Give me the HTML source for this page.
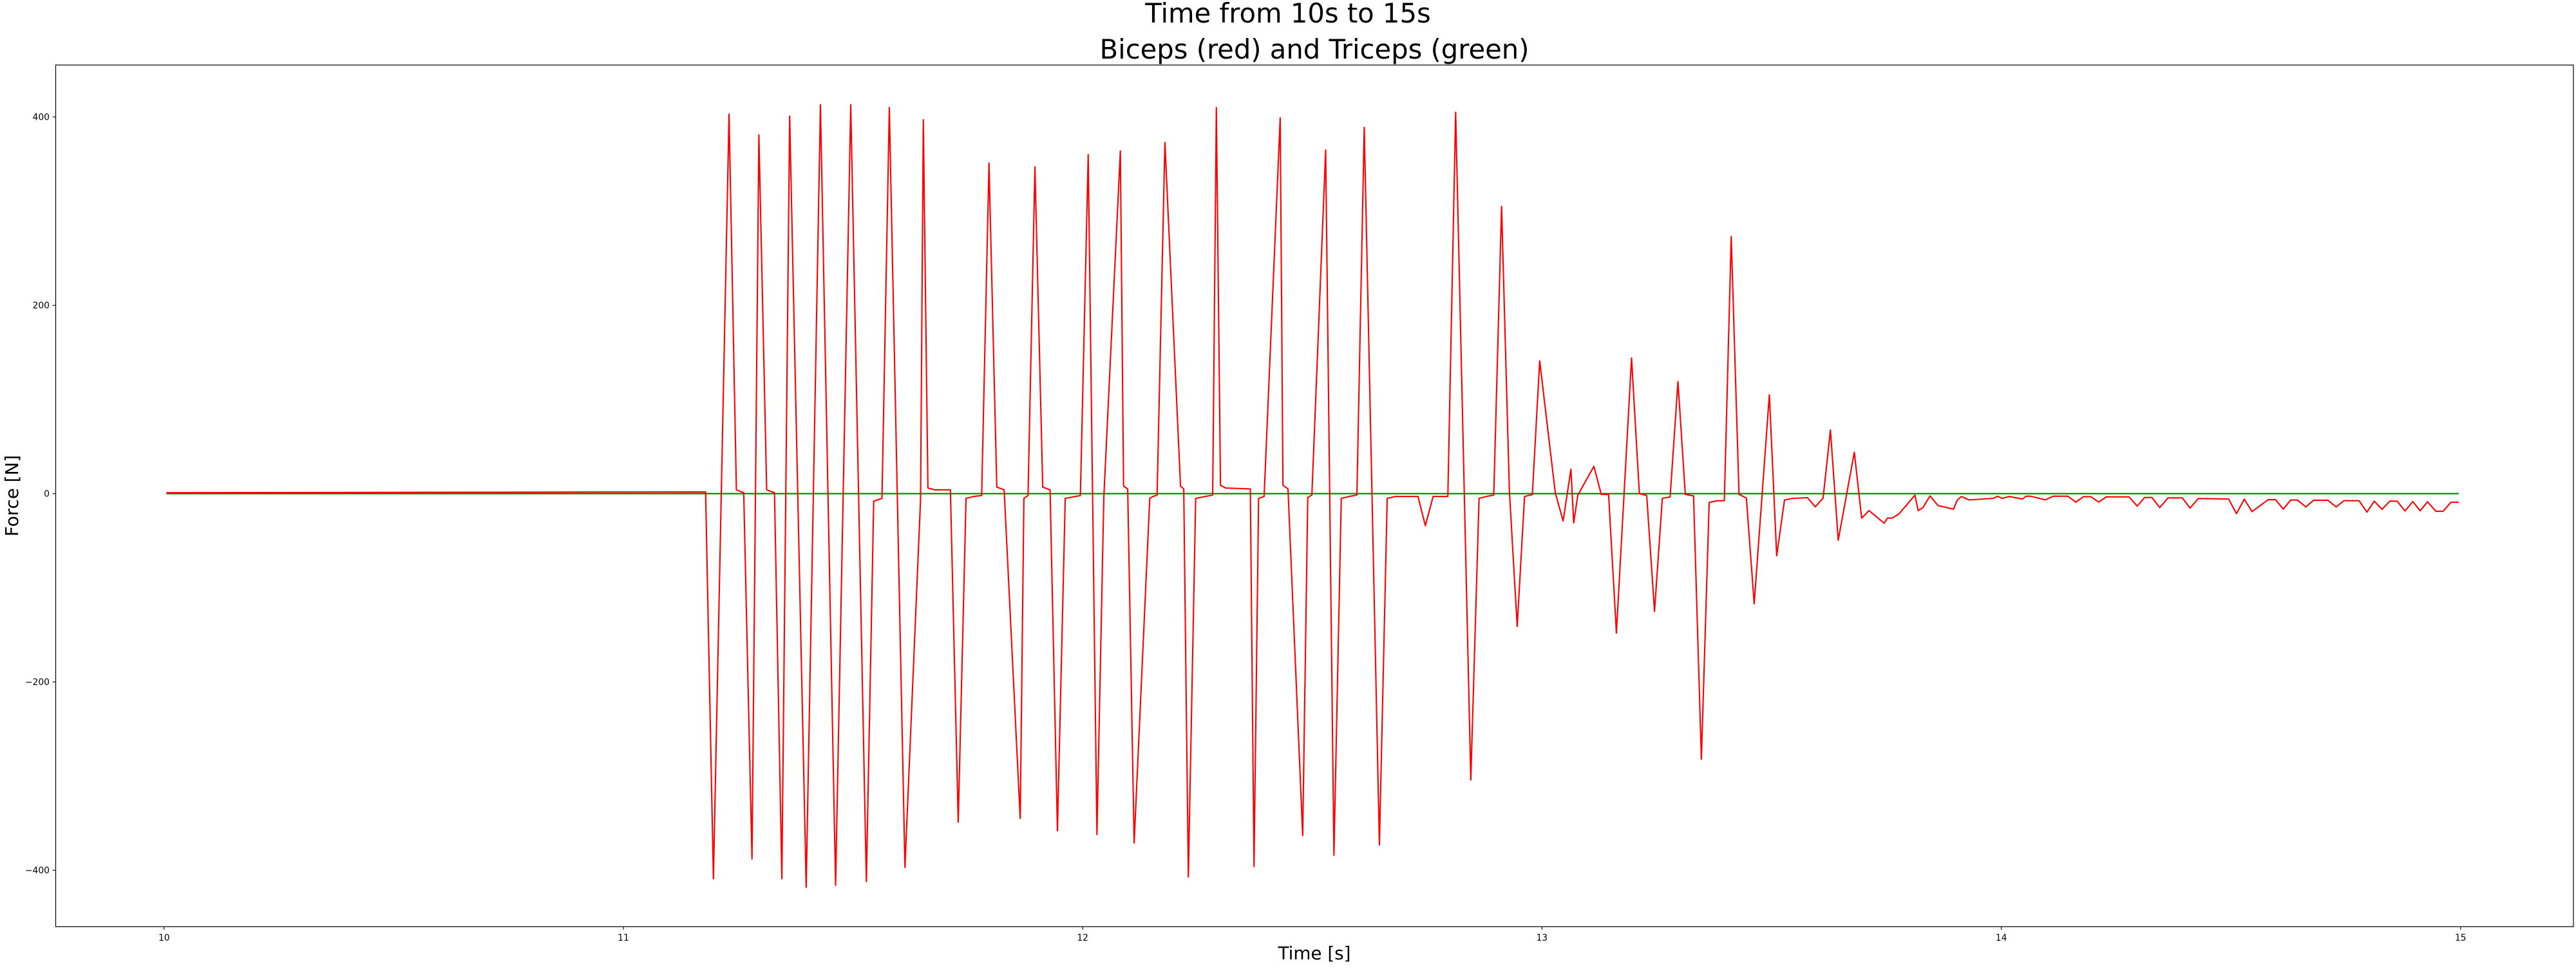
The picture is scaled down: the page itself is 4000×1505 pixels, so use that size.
<!DOCTYPE html>
<html>
<head>
<meta charset="utf-8">
<style>
  html, body { margin: 0; padding: 0; background: #ffffff; }
  body { width: 4000px; height: 1500px; overflow: hidden; }
  svg text { font-family: "DejaVu Sans", "Liberation Sans", sans-serif; fill: #000; }
</style>
</head>
<body>
<svg id="chart" width="4000" height="1500" viewBox="0 0 4000 1500" xmlns="http://www.w3.org/2000/svg">
  <rect x="0" y="0" width="4000" height="1500" fill="#ffffff"/>
  <text x="2000" y="35" font-size="41.7" text-anchor="middle">Time from 10s to 15s</text>
  <text x="2041" y="91" font-size="41.7" text-anchor="middle">Biceps (red) and Triceps (green)</text>
  <text x="2041" y="1490" font-size="27.8" text-anchor="middle">Time [s]</text>
  <text transform="translate(28,770) rotate(-90)" font-size="27.8" text-anchor="middle">Force [N]</text>
  <g id="plot"></g>
  <g id="xticks"></g>
  <g id="yticks"></g>
  <rect x="86.5" y="101" width="3909.5" height="1338.3" fill="none" stroke="#000" stroke-width="1.2"/>
</svg>
<script>
const xTicks = [10, 11, 12, 13, 14, 15];
const xTickLabels = ["10", "11", "12", "13", "14", "15"];
const yTicks = [-400, -200, 0, 200, 400];
const yTickLabels = ["\u2212400", "\u2212200", "0", "200", "400"];

const tricepsTime = [10.005, 14.996];
const tricepsForce = [0, 0];

const bicepsTime = [10.005, 11.179, 11.196, 11.230, 11.246, 11.262, 11.280, 11.295, 11.312, 11.329, 11.345, 11.362, 11.398, 11.429, 11.462, 11.495, 11.529, 11.545, 11.563, 11.579, 11.613, 11.647, 11.653, 11.663, 11.679, 11.712, 11.729, 11.746, 11.763, 11.780, 11.796, 11.813, 11.829, 11.864, 11.872, 11.881, 11.896, 11.913, 11.929, 11.945, 11.962, 11.995, 12.012, 12.031, 12.046, 12.082, 12.089, 12.098, 12.112,
 12.146, 12.153, 12.162, 12.179, 12.213, 12.220, 12.230, 12.246, 12.283, 12.291, 12.300, 12.311, 12.365, 12.373, 12.383, 12.395, 12.430, 12.436, 12.447, 12.479, 12.490, 12.499, 12.529, 12.547, 12.563, 12.580, 12.597, 12.613, 12.646, 12.663, 12.681, 12.730, 12.746, 12.763, 12.795, 12.812, 12.845, 12.863, 12.879, 12.895, 12.912, 12.929, 12.946, 12.962, 12.979, 12.995, 13.029, 13.046, 13.063, 13.069, 13.078,
 13.113, 13.129, 13.145, 13.162, 13.195, 13.212, 13.228, 13.245, 13.262, 13.279, 13.296, 13.312, 13.330, 13.347, 13.364, 13.381, 13.397, 13.412, 13.429, 13.445, 13.462, 13.495, 13.511, 13.528, 13.546, 13.578, 13.595, 13.612, 13.628, 13.645, 13.680, 13.696, 13.712, 13.745, 13.752, 13.762, 13.777, 13.812, 13.819, 13.829, 13.845, 13.862, 13.896, 13.904, 13.913, 13.930, 13.982, 13.992, 14.002, 14.017,
 14.046, 14.054, 14.064, 14.096, 14.113, 14.145, 14.162, 14.179, 14.195, 14.212, 14.229, 14.278, 14.296, 14.312, 14.328, 14.345, 14.363, 14.394, 14.411, 14.429, 14.495, 14.512, 14.529, 14.546, 14.581, 14.597, 14.614, 14.630, 14.645, 14.663, 14.680, 14.711, 14.729, 14.746, 14.779, 14.796, 14.812, 14.829, 14.846, 14.862, 14.879, 14.896, 14.912, 14.928, 14.946, 14.962, 14.979, 14.996];

const bicepsForce = [1.0, 1.8, -409, 403, 4, 1, -388, 381, 4, 1, -409, 401, -418, 413, -416, 413, -412, -8, -5, 410, -397, -6, 397, 6, 4, 4, -349, -5, -3, -2, 351, 7, 4, -345, -5, -2, 347, 7, 4, -358, -5, -2, 360, -362, -4, 364, 8, 5, -371,
 -5, -3, -1.5, 373, 8, 5, -407, -5, -1.5, 410, 9, 6, 5, -396, -5, -3, 399, 9, 5, -363, -4, -1.5, 365, -384, -5, -3, -1.5, 389, -373, -5, -3, -3, -34, -3, -3, 405, -304, -5, -3, -1.5, 305, 3, -141, -3, -1, 141, 0.7, -29, 26, -31, -1.6,
 29, -0.8, -0.8, -148, 144, 0, -2, -125, -5, -3.5, 119, -0.8, -2.4, -282, -9.4, -7.5, -7.5, 273, -0.8, -4.7, -117, 105, -66, -6.7, -5, -4.3, -14, -4.7, 67.5, -49.5, 44, -26, -18, -31.4, -26, -26, -21.6, -1.6, -18, -15, -2.4, -12.6, -16.5, -7, -3, -6.7, -5, -2.8, -5, -3,
 -5.7, -2.7, -2.7, -6.6, -2.7, -2.7, -9, -3.2, -3.2, -8.9, -3.4, -3.4, -13.2, -4.1, -4.1, -14.8, -4.5, -4.5, -15.3, -5.2, -5.7, -21.2, -5.9, -19.1, -6.4, -6.4, -16.4, -6.8, -6.8, -14.1, -7.0, -7.0, -14.1, -7.5, -7.5, -19.6, -8.0, -16.6, -8.0, -8.0, -18.4, -8.4, -18.2, -8.6, -18.7, -18.7, -9.1, -9.1];

const NS = "http://www.w3.org/2000/svg";
const X0 = 254.8, PX_PER_S = 713.2;
const Y0 = 766.7, PX_PER_N = 1.4625;
function xScale(t) { return X0 + (t - 10) * PX_PER_S; }
function yScale(f) { return Y0 - f * PX_PER_N; }

const plot = document.getElementById('plot');
const xg = document.getElementById('xticks');
const yg = document.getElementById('yticks');

function makeLine(times, values, color, name) {
  const p = document.createElementNS(NS, 'polyline');
  const pts = times.map((t, i) => xScale(t).toFixed(2) + ',' + yScale(values[i]).toFixed(2)).join(' ');
  p.setAttribute('points', pts);
  p.setAttribute('fill', 'none');
  p.setAttribute('stroke', color);
  p.setAttribute('stroke-width', '2.1');
  p.setAttribute('stroke-linejoin', 'round');
  
  
  plot.appendChild(p);
}
makeLine(tricepsTime, tricepsForce, '#008000', 'triceps-line');
makeLine(bicepsTime, bicepsForce, '#ff0000', 'biceps-line');

xTicks.forEach((v, i) => {
  const x = xScale(v);
  const l = document.createElementNS(NS, 'line');
  l.setAttribute('x1', x); l.setAttribute('x2', x);
  l.setAttribute('y1', 1439.3); l.setAttribute('y2', 1444.2);
  l.setAttribute('stroke', '#000'); l.setAttribute('stroke-width', '1.1');
  
  
  xg.appendChild(l);
  const t = document.createElementNS(NS, 'text');
  t.setAttribute('x', x); t.setAttribute('y', 1461);
  t.setAttribute('font-size', '13.9');
  t.setAttribute('text-anchor', 'middle');
  t.textContent = xTickLabels[i];
  
  
  xg.appendChild(t);
});

yTicks.forEach((v, i) => {
  const y = yScale(v);
  const l = document.createElementNS(NS, 'line');
  l.setAttribute('x1', 81.6); l.setAttribute('x2', 86.5);
  l.setAttribute('y1', y); l.setAttribute('y2', y);
  l.setAttribute('stroke', '#000'); l.setAttribute('stroke-width', '1.1');
  
  
  yg.appendChild(l);
  const t = document.createElementNS(NS, 'text');
  t.setAttribute('x', 77); t.setAttribute('y', y + 5);
  t.setAttribute('font-size', '13.9');
  t.setAttribute('text-anchor', 'end');
  t.textContent = yTickLabels[i];
  
  
  yg.appendChild(t);
});
</script>
</body>
</html>
